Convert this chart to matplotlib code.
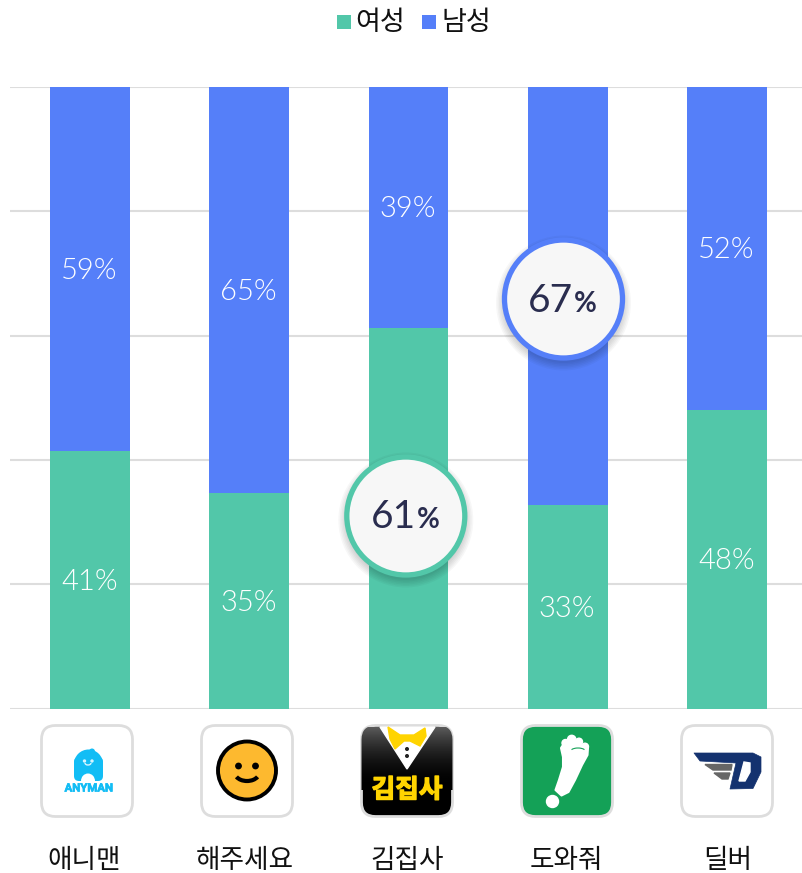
import numpy as np
import matplotlib
matplotlib.use('Agg')
import matplotlib.pyplot as plt
from matplotlib.patches import Circle, Ellipse, FancyBboxPatch, Polygon, Rectangle, Arc
import matplotlib.patheffects as pe

plt.rcParams['font.family'] = ['Noto Sans CJK KR', 'DejaVu Sans']

apps = ['애니맨', '해주세요', '김집사', '도와줘', '딜버']
# bar heights are a touch off the printed labels in the picture
female = [41.4, 34.6, 61.3, 32.8, 48.1]
male = [58.6, 65.4, 38.7, 67.2, 51.9]
female_labels = [41, 35, 61, 33, 48]
male_labels = [59, 65, 39, 67, 52]
legend_names = ['여성', '남성']
GREEN = '#52C7A9'
BLUE = '#557FF9'
NAVY = '#2A2D4F'
GRID = '#DDDDDD'

W, H = 802, 873
fig = plt.figure(figsize=(W / 100, H / 100), dpi=100)

# bars
ax = fig.add_axes([10 / W, (H - 708.5) / H, 792 / W, 621.5 / H])
x = np.arange(len(apps))
ax.bar(x, female, width=0.5, color=GREEN, zorder=2)
ax.bar(x, male, width=0.5, bottom=female, color=BLUE, zorder=2)
ax.set_xlim(-0.502, 4.47)
ax.set_ylim(0, 100)
ax.set_yticks(range(0, 101, 20))
ax.grid(axis='y', color=GRID, lw=1.5, zorder=1)
ax.tick_params(left=False, bottom=False, labelleft=False, labelbottom=False)
for s in ax.spines.values():
    s.set_visible(False)


def bar_text(i, y, label):
    ax.annotate(f'{label}%', (i, y), xytext=(-0.5, -1.5), textcoords='offset points', color='white',
                fontsize=21, family='Lato', fontweight=300, ha='center', va='center', zorder=3)


for i in x:
    if i != 2:
        bar_text(i, female[i] / 2, female_labels[i])
    if i != 3:
        bar_text(i, female[i] + male[i] / 2, male_labels[i])

# everything else is laid out in pixels
ov = fig.add_axes([0, 0, 1, 1], zorder=5)
ov.set_xlim(0, W)
ov.set_ylim(H, 0)
ov.axis('off')
ov.patch.set_alpha(0)

# legend
for sx, tx, c, name in [(337, 355.5, GREEN, legend_names[0]), (422, 441.5, BLUE, legend_names[1])]:
    ov.add_patch(Rectangle((sx, 15), 14, 14, color=c, lw=0))
    ov.text(tx, 23, name, fontsize=19.5, color='#111111', ha='left', va='center')


def bubble(cx, cy, val, color, tx, base):
    for r in np.arange(60, 69, 1.5):
        ov.add_patch(Circle((cx, cy + 4), r, color='black', alpha=0.03, lw=0, zorder=6))
    ov.add_patch(Circle((cx, cy), 59, fc='#F7F7F7', ec=color, lw=3.8, zorder=7))
    ov.text(tx, base, str(val), fontsize=28, color=NAVY, family='Lato', ha='left', va='baseline', zorder=8)
    ov.text(tx + 45.5, base, '%', fontsize=20, color=NAVY, family='Lato', fontweight='bold',
            ha='left', va='baseline', zorder=8)


bubble(405.8, 516, female_labels[2], GREEN, 371, 528)
bubble(563.5, 299, male_labels[3], BLUE, 528, 312)


# icons
TOP = 725.5


def icon_box(cx, fc='white'):
    box = FancyBboxPatch((cx - 31.5, TOP + 14), 63, 63, boxstyle='round,pad=14,rounding_size=14',
                         fc=fc, ec=GRID, lw=2, zorder=2)
    ov.add_patch(box)
    return box


# 애니맨
BL = '#12BDF5'
icon_box(87)
ov.add_patch(FancyBboxPatch((74, 757), 29, 24, boxstyle='round,pad=0,rounding_size=5', fc=BL, ec='none', zorder=3))
ov.add_patch(Ellipse((88.5, 764), 29, 29, fc=BL, ec='none', zorder=3))
ov.add_patch(Circle((92, 751.5), 3, fc=BL, ec='none', zorder=3))
ov.add_patch(Ellipse((88, 781), 14, 15, fc='white', ec='none', zorder=3))
ov.add_patch(Circle((84.5, 761), 1, color='#D8F5FF', zorder=4))
ov.add_patch(Circle((92, 761), 1, color='#D8F5FF', zorder=4))
ov.add_patch(Arc((88, 763), 6, 4, theta1=0, theta2=180, color='#D8F5FF', lw=1, zorder=4))
ov.text(88.7, 788.5, 'ANYMAN', fontsize=8.2, color=BL, fontweight='bold', family='Roboto', ha='center',
        va='center', path_effects=[pe.withStroke(linewidth=0.5, foreground=BL)], zorder=4)

# 해주세요
icon_box(247)
ov.add_patch(Circle((247, 770.5), 29, fc='#FDB92F', ec='black', lw=2.8, zorder=3))
ov.add_patch(Circle((238.5, 766), 2.7, color='black', zorder=4))
ov.add_patch(Circle((255.5, 766), 2.7, color='black', zorder=4))
ov.add_patch(Arc((247, 773), 24, 16, theta1=20, theta2=160, color='black', lw=3, zorder=4))

# 김집사
box = icon_box(407, fc='black')
grad = (np.linspace(0.6, 0, 100) ** 2).reshape(-1, 1)
im = ov.imshow(grad, cmap='gray', vmin=0, vmax=1, extent=(361, 453, 790, 727), aspect='auto', zorder=3)
im.set_clip_path(box)
ov.set_xlim(0, W)
ov.set_ylim(H, 0)
ov.add_patch(Polygon([(380, 727), (407, 769), (435, 727)], color='white', zorder=4))
ov.add_patch(Polygon([(388, 727), (400, 735), (414, 735), (425, 728), (426, 736), (420, 746), (410, 741),
                      (404, 741), (395, 749), (390, 739)], color='#FFD400', zorder=5))
for dy in [749, 756]:
    ov.add_patch(Circle((407, dy), 1.3, color='#222222', zorder=5))
ov.text(407, 790, '김집사', fontsize=18.5, color='#FFD400', fontweight='bold', ha='center', va='center',
        path_effects=[pe.withStroke(linewidth=1, foreground='#FFD400')], zorder=5)

# 도와줘
icon_box(567, fc='#14A157')
foot = [(555.5, 790), (559, 780), (563, 767), (563, 757), (561, 748), (565, 742), (577, 742), (588, 748),
        (587.5, 755), (582, 765), (575, 780), (568.5, 792), (561.5, 795.5)]
ov.add_patch(Polygon(foot, closed=True, fc='white', ec='white', lw=1.5, joinstyle='round', zorder=4))
for tx, ty, r in [(571.7, 739.5, 4.2), (565.5, 743, 3.5), (579, 741.7, 3.5), (585, 746.7, 3.5)]:
    ov.add_patch(Circle((tx, ty), r, color='white', zorder=4))
ov.add_patch(Arc((578, 752), 16, 8, theta1=200, theta2=340, color='#14A157', lw=0.8, zorder=5))
ov.add_patch(Circle((552.5, 801.5), 6, color='white', zorder=4))

# 딜버
icon_box(727)
DN = '#14326F'
ov.add_patch(Polygon([(694, 753), (753, 753), (761, 757), (761, 772), (753, 788.5), (730, 789),
                      (736, 763), (700, 761)], fc=DN, ec=DN, lw=0.5, joinstyle='round', zorder=3))
ov.add_patch(Polygon([(744, 762), (750, 763), (750, 772), (745, 781), (739, 781)], color='white', zorder=4))
ov.add_patch(Polygon([(705, 764.5), (732, 764.5), (731, 770), (713, 770)], color='#666666', zorder=4))
ov.add_patch(Polygon([(714, 773), (730, 773), (728, 779), (722, 779)], color='#666666', zorder=4))

# app names
for cx, name in zip([84.5, 245, 407, 566, 728], apps):
    ov.text(cx, 860, name, fontsize=19.2, color='#111111', ha='center', va='center')

fig.savefig('out.png', dpi=100)
